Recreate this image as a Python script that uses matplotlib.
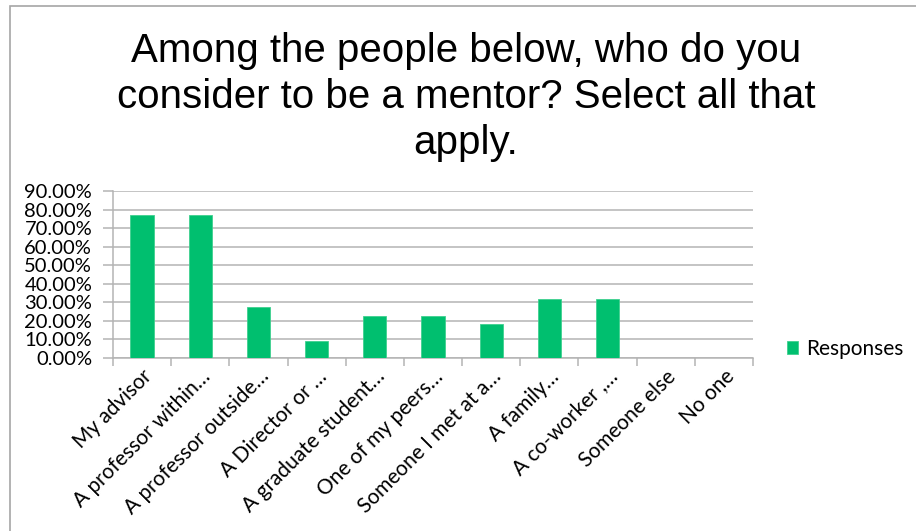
import matplotlib.pyplot as plt
from matplotlib.patches import Rectangle
from matplotlib.ticker import PercentFormatter, FixedLocator

# answers to the mentor question, share of 22 respondents
labels = ["My advisor", "A professor within…", "A professor outside…",
          "A Director or …", "A graduate student…", "One of my peers…",
          "Someone I met at a…", "A family…", "A co-worker ,…",
          "Someone else", "No one"]
responses = [0.7727, 0.7727, 0.2727, 0.0909, 0.2273, 0.2273,
             0.1818, 0.3182, 0.3182, 0.0, 0.0]
yticks = [0.0, 0.1, 0.2, 0.3, 0.4, 0.5, 0.6, 0.7, 0.8, 0.9]

green = "#00BF6F"
grid_c = "#B4B4B4"
tick_font = ["Lato", "DejaVu Sans"]

fig = plt.figure(figsize=(9.16, 5.31), dpi=100)
fig.patch.set_facecolor("white")

# outer chart frame (only left and top edges fall inside the canvas)
fig.patches.append(Rectangle((10 / 916, -0.1), 1.2, 1 - 6 / 531 + 0.1,
                             transform=fig.transFigure, fill=False,
                             edgecolor="#A6A6A6", linewidth=1.2))

fig.text(466 / 916, 1 - 32 / 531,
         "Among the people below, who do you\nconsider to be a mentor? Select all that\napply.",
         ha="center", va="top", fontsize=29, family="Liberation Sans",
         linespacing=1.27, color="black")

ax = fig.add_axes([113 / 916, 1 - 358 / 531, 640 / 916, 167 / 531])
x = list(range(len(labels)))
ax.bar(x, responses, width=0.4, color=green, edgecolor="#3fd08f",
       linewidth=0.6, zorder=3, label="Responses")

ax.set_xlim(-0.5, len(labels) - 0.5)
ax.set_ylim(0, 0.9)
ax.yaxis.set_major_locator(FixedLocator(yticks))
ax.yaxis.set_major_formatter(PercentFormatter(1.0, decimals=2))
ax.grid(axis="y", color=grid_c, linewidth=1.1, zorder=0)

for s in ["top", "right"]:
    ax.spines[s].set_visible(False)
for s in ["left", "bottom"]:
    ax.spines[s].set_color(grid_c)
    ax.spines[s].set_linewidth(1.1)

ax.tick_params(axis="y", length=7, color=grid_c, width=1.1, pad=8,
               labelsize=14.5)
# category ticks sit between the bars
ax.set_xticks([i - 0.5 for i in range(len(labels) + 1)], minor=False)
ax.set_xticklabels([])
ax.tick_params(axis="x", which="major", length=6, color=grid_c, width=1.1)
ax.set_xticks(x, minor=True)
ax.set_xticklabels(labels, minor=True, rotation=45, ha="right",
                   rotation_mode="anchor")
ax.tick_params(axis="x", which="minor", length=0, pad=6, labelsize=15)
for t in ax.get_yticklabels() + ax.get_xticklabels(minor=True):
    t.set_family(tick_font)

leg = fig.legend(loc="center left", bbox_to_anchor=(768 / 916, 1 - 349 / 531),
                 frameon=False, handlelength=0.55, handleheight=0.55,
                 handletextpad=0.4, prop={"family": tick_font, "size": 15})

fig.savefig("out.png", dpi=100)
